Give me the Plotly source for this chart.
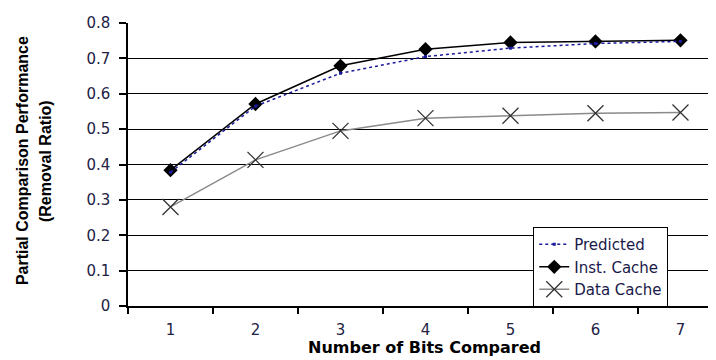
import plotly.graph_objects as go

bits = ["1", "2", "3", "4", "5", "6", "7"]
predicted = [0.378, 0.565, 0.658, 0.705, 0.729, 0.742, 0.748]
inst_cache = [0.384, 0.571, 0.679, 0.726, 0.745, 0.748, 0.751]
data_cache = [0.280, 0.413, 0.495, 0.531, 0.538, 0.545, 0.547]

fig = go.Figure()
fig.add_trace(go.Scatter(
    x=bits, y=data_cache, name="Data Cache", mode="lines+markers",
    line=dict(color="#8a8a8a", width=1.5),
    marker=dict(symbol="x-thin", size=16, line=dict(color="#333333", width=1.3)),
    legendrank=3))
fig.add_trace(go.Scatter(
    x=bits, y=inst_cache, name="Inst. Cache", mode="lines+markers",
    line=dict(color="black", width=1.5),
    marker=dict(symbol="diamond", size=11, color="black"),
    legendrank=2))
fig.add_trace(go.Scatter(
    x=bits, y=predicted, name="Predicted", mode="lines+markers",
    line=dict(color="#1a1a9a", width=1.5, dash="dot"),
    marker=dict(symbol="square", size=3, color="#1a1a9a"),
    legendrank=1))

fig.update_layout(
    width=708, height=352,
    margin=dict(l=120, r=0, t=15, b=54),
    paper_bgcolor="white", plot_bgcolor="white",
    font=dict(family="DejaVu Sans", color="#222222"),
    showlegend=True,
    legend=dict(x=0.804, y=0.279, xanchor="center", yanchor="top",
                bgcolor="white", bordercolor="black", borderwidth=1,
                font=dict(family="DejaVu Sans", size=15, color="#1a1a4a"),
                tracegroupgap=0),
    xaxis=dict(type="category", range=[-0.5, 6.418], tickson="boundaries",
               ticks="outside", ticklen=6, tickcolor="black", tickwidth=1.5,
               showline=True, linecolor="black", linewidth=1.5,
               showgrid=False, zeroline=False,
               tickfont=dict(family="DejaVu Sans", size=15, color="#222244"),
               ticklabelstandoff=9),
    yaxis=dict(range=[0, 0.8], dtick=0.1, tick0=0,
               ticks="outside", ticklen=7, tickcolor="black", tickwidth=1.5,
               showline=True, linecolor="black", linewidth=1.5,
               showgrid=True, gridcolor="black", gridwidth=1.2,
               zeroline=False,
               tickfont=dict(family="DejaVu Sans", size=15, color="#222244"),
               ticklabelstandoff=6),
    annotations=[
        dict(text="<b>Number of Bits Compared</b>", xref="paper", yref="paper",
             x=0.505, y=-0.148, xanchor="center", yanchor="middle",
             showarrow=False, font=dict(family="DejaVu Sans", size=16, color="black")),
        dict(text="<b>Partial Comparison Performance</b>", xref="paper", yref="paper",
             x=(22 - 128) / 588, y=0.512, xanchor="center", yanchor="middle",
             textangle=-90, showarrow=False,
             font=dict(family="Liberation Sans", size=16, color="black")),
        dict(text="<b>(Removal Ratio)</b>", xref="paper", yref="paper",
             x=(45 - 128) / 588, y=0.512, xanchor="center", yanchor="middle",
             textangle=-90, showarrow=False,
             font=dict(family="Liberation Sans", size=16, color="black")),
    ],
)

fig.write_html("out.html")
